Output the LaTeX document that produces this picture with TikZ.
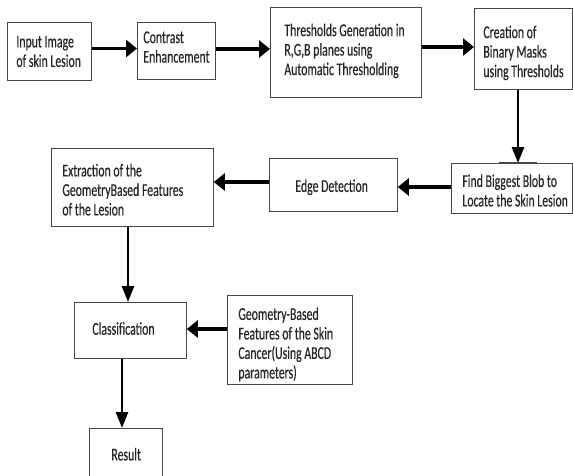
\documentclass[tikz,border=0pt]{standalone}
\usepackage{fontspec}
\setmainfont{Carlito}[FakeStretch=0.655, FakeBold=0.4]
\usetikzlibrary{arrows.meta}
\definecolor{boxgray}{RGB}{70,70,70}
% width, left pad, first baseline below centre, lines
\newcommand\btext[4]{\makebox[#1pt][l]{\hspace*{#2pt}\raisebox{-#3pt}[0pt][0pt]{\begin{tabular}[t]{@{}l@{}}#4\end{tabular}}}}
\tikzset{
  box/.style={draw=boxgray, line width=0.8pt, inner sep=0pt, anchor=north west,
    font=\fontsize{18}{19.5}\selectfont, text=black!85},
  harr/.style={line width=3.3pt, -{Triangle[length=11pt,width=17pt]}},
  varr/.style={line width=2.7pt, -{Triangle[length=16pt,width=12pt]}}
}
\begin{document}
\begin{tikzpicture}[x=1pt,y=1pt]
\useasboundingbox (0,0) rectangle (573,-475);
\clip (0,0) rectangle (573,-475);
\node[box, minimum width=84pt, minimum height=58pt] (b1) at (7,-22)
  {\btext{84}{9}{-4}{Input Image\\of skin Lesion}};
\node[box, minimum width=78pt, minimum height=57pt] (b2) at (137,-22)
  {\btext{78}{6}{-7.8}{Contrast\\Enhancement}};
\node[box, minimum width=151pt, minimum height=90pt] (b3) at (270,-7)
  {\btext{151}{14}{-16.3}{Thresholds Generation in\\R,G,B planes using\\Automatic Thresholding}};
\node[box, minimum width=98pt, minimum height=81pt] (b4) at (474,-8)
  {\btext{98}{9}{-10.8}{Creation of\\Binary Masks\\using Thresholds}};
\node[box, minimum width=121pt, minimum height=50pt] (b5) at (451,-163)
  {\btext{121}{11}{-1.5}{Find Biggest Blob to\\Locate the Skin Lesion}};
\node[box, minimum width=128pt, minimum height=53pt] (b6) at (269,-158)
  {\btext{128}{26}{7}{Edge Detection}};
\node[box, minimum width=162pt, minimum height=78pt] (b7) at (51,-148)
  {\btext{162}{11}{-11}{Extraction of the\\GeometryBased Features\\of the Lesion}};
\node[box, minimum width=112pt, minimum height=56pt] (b8) at (74,-302)
  {\btext{112}{18}{4.3}{Classification}};
\node[box, minimum width=125pt, minimum height=89pt] (b9) at (227,-295)
  {\btext{125}{11}{-20}{Geometry-Based\\Features of the Skin\\Cancer(Using ABCD\\parameters)}};
\node[box, minimum width=73pt, minimum height=54pt] (b10) at (89,-428)
  {\btext{73}{22}{5}{Result}};
\draw[line width=1.8pt, boxgray] (b5.north -| 499,0) -- (b5.north -| 537,0);
\draw[harr] (b1.east |- 0,-48.5) -- (b2.west |- 0,-48.5);
\draw[harr] (b2.east |- 0,-49) -- (b3.west |- 0,-49);
\draw[harr] (b3.east |- 0,-47) -- (b4.west |- 0,-47);
\draw[varr] (b4.south -| 518,0) -- (b5.north -| 518,0);
\draw[harr] (b5.west |- 0,-187) -- (b6.east |- 0,-187);
\draw[harr] (b6.west |- 0,-182) -- (b7.east |- 0,-182);
\draw[varr] (b7.south -| 128,0) -- (b8.north -| 128,0);
\draw[harr] (b9.west |- 0,-329) -- (b8.east |- 0,-329);
\draw[varr] (b8.south -| 122,0) -- (b10.north -| 122,0);
\end{tikzpicture}
\end{document}
